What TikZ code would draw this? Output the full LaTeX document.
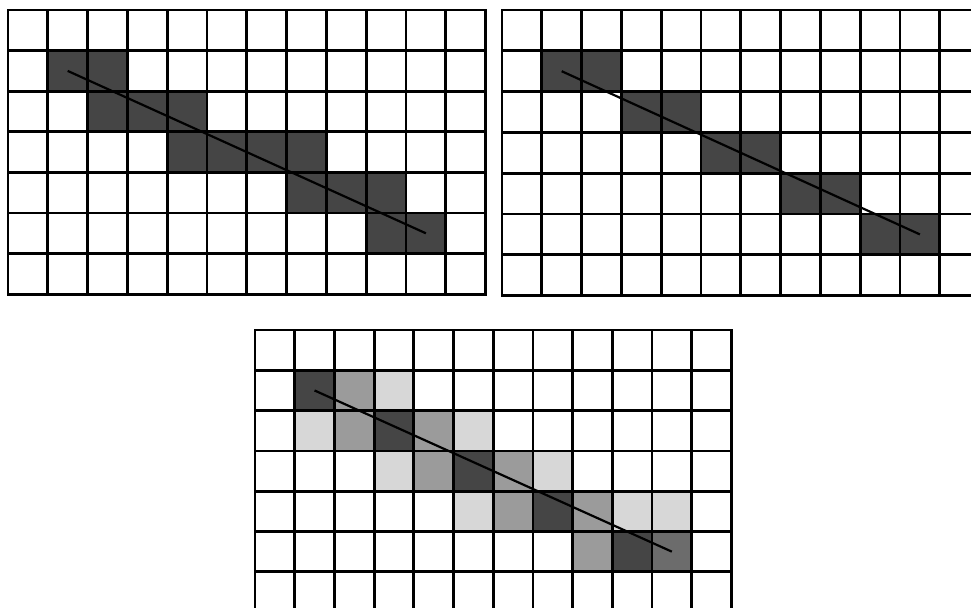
\documentclass[tikz,border=0pt]{standalone}
\usepackage{xcolor}
\definecolor{pixdark}{HTML}{454545}
\definecolor{pixdeep}{HTML}{6C6C6C}
\definecolor{pixmid}{HTML}{9B9B9B}
\definecolor{pixlight}{HTML}{D7D7D7}
\usepackage{tikz}
\newcommand{\pix}[3]{% col, row, colour
  \fill[#3] (#1,#2) rectangle (#1+1,#2+1);
}
\newcommand{\raster}{% 12 x 7 cells, row 0 on top
  \foreach \c in {0,...,12} {
    \draw[black, line width=1.4pt, line cap=rect] (\c,0) -- (\c,7);
  }
  \foreach \r in {0,...,7} {
    \draw[black, line width=1.4pt, line cap=rect] (0,\r) -- (12,\r);
  }
}
\newcommand{\segment}{% ideal line, centre to centre
  \coordinate (start) at (1.5,1.5);
  \coordinate (stop) at (10.5,5.5);
  \draw[black, line width=1.1pt] (start) -- (stop);
}

\begin{document}
\begin{tikzpicture}
  \useasboundingbox (0,0) rectangle (485.5pt,-303.5pt);
  \clip (0,0) rectangle (485.5pt,-303.5pt);

  % plain stepping, top left
  \begin{scope}[shift={(4pt,-5pt)}, x=19.9pt, y=-20.3pt]
    \foreach \c/\r in {1/1,2/1,2/2,3/2,4/2,4/3,5/3,6/3,7/3,7/4,8/4,9/4,9/5,10/5} {
      \pix{\c}{\r}{pixdark}
    }
    \raster
    \segment
  \end{scope}

  % one cell per column, top right
  \begin{scope}[shift={(251pt,-5pt)}, x=19.9pt, y=-20.4pt]
    \foreach \c/\r in {1/1,2/1,3/2,4/2,5/3,6/3,7/4,8/4,9/5,10/5} {
      \pix{\c}{\r}{pixdark}
    }
    \raster
    \segment
  \end{scope}

  % antialiased, bottom
  \begin{scope}[shift={(127.5pt,-165pt)}, x=19.85pt, y=-20.15pt]
    \foreach \c/\r in {3/1,1/2,5/2,3/3,7/3,5/4,9/4,10/4} {
      \pix{\c}{\r}{pixlight}
    }
    \foreach \c/\r in {2/1,2/2,4/2,4/3,6/3,6/4,8/4,8/5} {
      \pix{\c}{\r}{pixmid}
    }
    \foreach \c/\r in {1/1,3/2,5/3,7/4,9/5} {
      \pix{\c}{\r}{pixdark}
    }
    \pix{10}{5}{pixdeep}
    \raster
    \segment
  \end{scope}
\end{tikzpicture}
\end{document}
